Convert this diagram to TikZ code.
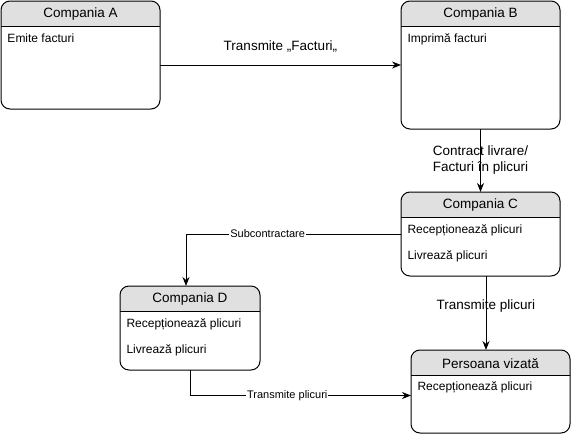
\documentclass[tikz,border=0pt]{standalone}
\usepackage{fontspec}
\setmainfont{Liberation Sans}
\usetikzlibrary{arrows.meta,backgrounds}
\definecolor{hdrc}{HTML}{E0E0E0}
% grey title band of a company box
\newcommand\headband[1]{%
  \begin{scope}[on background layer]
    \fill[hdrc] ([yshift=-25pt]#1.north west) [rounded corners=9pt]-- (#1.north west)
      -- (#1.north east) [sharp corners]-- ([yshift=-25pt]#1.north east) -- cycle;
  \end{scope}
  \draw ([yshift=-25pt]#1.north west) -- ([yshift=-25pt]#1.north east);}

\begin{document}
\begin{tikzpicture}[x=1pt, y=-1pt, line width=1pt, >={Stealth[length=9pt,width=7pt]},
  frame/.style={draw, rounded corners=9pt, anchor=north west, outer sep=0pt, inner sep=0pt},
  title/.style={font=\fontsize{13.5}{15}\selectfont, inner sep=0pt},
  row/.style={font=\fontsize{12}{14}\selectfont, anchor=west, inner sep=0pt},
  lbl/.style={font=\fontsize{13.5}{16}\selectfont, align=center, inner sep=1pt},
  sublbl/.style={font=\fontsize{11}{13}\selectfont, fill=white, inner sep=1pt}]
  \useasboundingbox (0,0) rectangle (571,434);
  % boxes
  \node[frame, minimum width=159pt, minimum height=108pt] (compA) at (1,1) {};
  \node[frame, minimum width=159pt, minimum height=128pt] (compB) at (401,1) {};
  \node[frame, minimum width=159pt, minimum height=84pt] (compC) at (401,192) {};
  \node[frame, minimum width=140pt, minimum height=84pt] (compD) at (120,286) {};
  \node[frame, minimum width=159pt, minimum height=83pt] (compP) at (411,350) {};
  \headband{compA}
  \headband{compB}
  \headband{compC}
  \headband{compD}
  \headband{compP}
  \node[title] (compAt) at ([yshift=-13.5pt]compA.north) {Compania A};
  \node[title] (compBt) at ([yshift=-13.5pt]compB.north) {Compania B};
  \node[title] (compCt) at ([yshift=-13.5pt]compC.north) {Compania C};
  \node[title] (compDt) at ([yshift=-13.5pt]compD.north) {Compania D};
  \node[title] (compPt) at ([yshift=-13.5pt]compP.north) {Persoana vizată};
  \node[row] (compA1) at ([xshift=6pt,yshift=-37pt]compA.north west) {Emite facturi};
  \node[row] (compB1) at ([xshift=6pt,yshift=-38pt]compB.north west) {Imprimă facturi};
  \node[row] (compC1) at ([xshift=6pt,yshift=-38pt]compC.north west) {Recepționează plicuri};
  \node[row] (compC2) at ([xshift=6pt,yshift=-64pt]compC.north west) {Livrează plicuri};
  \node[row] (compD1) at ([xshift=6pt,yshift=-38pt]compD.north west) {Recepționează plicuri};
  \node[row] (compD2) at ([xshift=6pt,yshift=-64pt]compD.north west) {Livrează plicuri};
  \node[row] (compP1) at ([xshift=6pt,yshift=-37pt]compP.north west) {Recepționează plicuri};
  % connectors
  \draw[->] (compA.east |- compB.west) -- node[lbl, yshift=19pt] {Transmite „Facturi„} (compB.west);
  \draw[->] (compB) -- node[lbl] {Contract livrare/\\Facturi în plicuri} (compC);
  \draw[->] (compC.west) -| node[sublbl, pos=0.31] {Subcontractare} ([xshift=-4pt]compD.north);
  \draw[->] (compD.south) |- node[sublbl, pos=0.72] {Transmite plicuri} ([yshift=-4pt]compP.west);
  \draw[->] ([xshift=5.5pt]compC.south) -- node[lbl, pos=0.4] {Transmite plicuri}
    ([xshift=5.5pt]compC.south |- compP.north);
\end{tikzpicture}
\end{document}
